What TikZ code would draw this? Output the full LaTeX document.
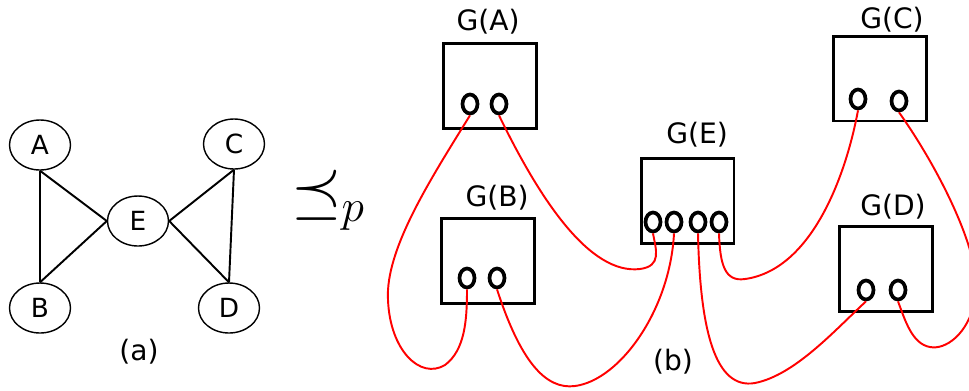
\documentclass[tikz,border=0pt]{standalone}
\usepackage{fix-cm}
\usepackage{fontspec}
\setmainfont{DejaVu Sans}
\usetikzlibrary{shapes.geometric, positioning}
\definecolor{wirered}{HTML}{FF0000}

\begin{document}
\begin{tikzpicture}[x=0.02cm, y=-0.02cm,
  vertex/.style={ellipse, draw, line width=0.8pt, minimum width=1.22cm, minimum height=1.0cm, inner sep=0pt, font=\fontsize{15}{18}\selectfont},
  edge/.style={line width=1.1pt},
  gadget/.style={rectangle, draw, line width=1.7pt, minimum width=1.86cm, minimum height=1.7cm},
  port/.style={ellipse, draw, line width=2.1pt, minimum width=0.3cm, minimum height=0.38cm, inner sep=0pt},
  tag/.style={font=\fontsize{16}{19}\selectfont},
  wire/.style={wirered, line width=1.1pt}
]
  \clip (0,0) rectangle (969,390);

  % (a) the graph
  \node[vertex] (A) at (40,145) {A};
  \node[vertex] (B) at (40,308) {B};
  \node[vertex] (E) at (138,221) {E};
  \node[vertex] (C) at (234,144) {C};
  \node[vertex] (D) at (229,308) {D};
  \draw[edge] (A.south) -- (B.north);
  \draw[edge] (A.south) -- (E.west);
  \draw[edge] (B.north) -- (E.west);
  \draw[edge] (C.south) -- (D.north);
  \draw[edge] (E.east) -- (C.south);
  \draw[edge] (E.east) -- (D.north);
  \node[tag] (capa) at (139,352) {(a)};

  \node (prec) at (328,200) {\fontsize{37}{44}\selectfont$\preceq_p$};

  % (b) the gadgets
  \node[gadget] (gA) at (490,86) {};
  \node[gadget] (gB) at (488,261) {};
  \node[gadget] (gE) at (687.5,201) {};
  \node[gadget] (gC) at (880,78.5) {};
  \node[gadget] (gD) at (886,269) {};
  \node[tag] (tA) at (488,22) {G(A)};
  \node[tag] (tB) at (497,198) {G(B)};
  \node[tag] (tE) at (697,135) {G(E)};
  \node[tag] (tC) at (892,20) {G(C)};
  \node[tag] (tD) at (893,207) {G(D)};

  \node[port] (a1) at (470,104) {};
  \node[port] (a2) at (499,104) {};
  \node[port] (b1) at (467,278) {};
  \node[port] (b2) at (497,278) {};
  \node[port] (e1) at (653,222) {};
  \node[port] (e2) at (674,222) {};
  \node[port] (e3) at (698,222) {};
  \node[port] (e4) at (719,222) {};
  \node[port] (c1) at (858,99) {};
  \node[port] (c2) at (899,101) {};
  \node[port] (d1) at (866,290) {};
  \node[port] (d2) at (898,290) {};

  \draw[wire] (a1.south) .. controls (430,180) and (385,250) .. (388,300)
    .. controls (390,350) and (420,380) .. (445,365)
    .. controls (465,350) and (467,320) .. (b1.south);
  \draw[wire] (a2.south) .. controls (540,200) and (590,275) .. (640,269)
    .. controls (662,266) and (656,250) .. (e1.south);
  \draw[wire] (b2.south) .. controls (520,360) and (545,390) .. (575,386)
    .. controls (620,380) and (670,310) .. (e2.south);
  \draw[wire] (e3.south) .. controls (700,330) and (715,390) .. (755,383)
    .. controls (795,375) and (835,330) .. (d1.south);
  \draw[wire] (e4.south) .. controls (720,265) and (725,282) .. (745,279)
    .. controls (810,270) and (845,180) .. (c1.south);
  \draw[wire] (c2.south) .. controls (940,170) and (985,260) .. (975,300)
    .. controls (968,335) and (945,350) .. (930,347)
    .. controls (912,344) and (905,320) .. (d2.south);

  \node[tag] (capb) at (673,362) {(b)};
\end{tikzpicture}
\end{document}
